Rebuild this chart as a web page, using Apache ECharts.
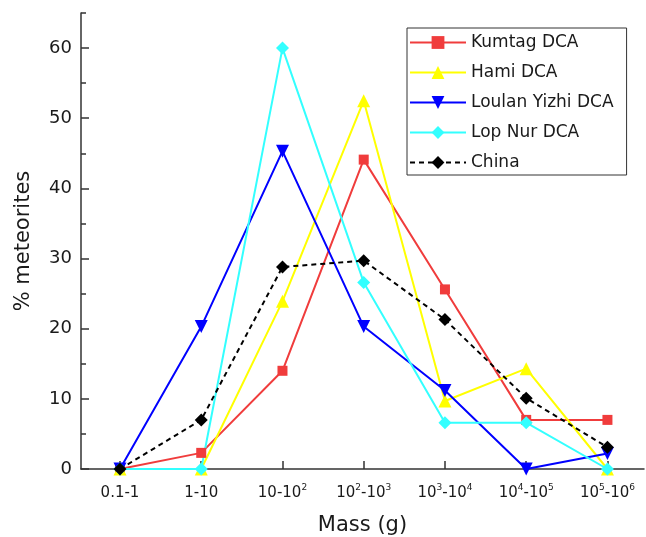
<!DOCTYPE html>
<html>
<head>
<meta charset="utf-8">
<script src="https://cdn.jsdelivr.net/npm/echarts@6/dist/echarts.min.js"></script>
<style>
  html,body{margin:0;padding:0;background:#fff;}
  #chart{width:646px;height:537px;}
</style>
</head>
<body>
<div id="chart"></div>
<script>
  // mass bins, ^n marks a superscript
  var categories=['0.1-1','1-10','10-10^2','10^2-10^3','10^3-10^4','10^4-10^5','10^5-10^6'];
  var kumtag=[0,2.3,14,44.1,25.6,7,7];
  var hami=[0,0,23.9,52.5,9.7,14.3,0];
  var loulan=[0,20.3,45.3,20.3,11.2,0,2.2];
  var lopNur=[0,0,60,26.6,6.6,6.6,0];
  var china=[0,7,28.8,29.7,21.3,10.1,3.1];
  var yMajor=[0,10,20,30,40,50,60];
  var yMinor=[5,15,25,35,45,55,65];

  var font='DejaVu Sans, Arial, sans-serif';
  var txt='#1a1a1a';

  function pts(arr){
    return arr.map(function(v,i){return [i,v];});
  }
  function fmtCat(v){
    var s=categories[Math.round(v)];
    if(s===undefined) return '';
    return s.split(/(\^\d)/).map(function(p){
      if(p.charAt(0)==='^') return '{s|'+p.slice(1)+'}';
      return p ? '{b|'+p+'}' : '';
    }).join('');
  }
  function mk(name,data,color,symbol,size,extra){
    var s={
      name:name,
      type:'line',
      data:pts(data),
      symbol:symbol,
      symbolSize:size,
      showAllSymbol:true,
      itemStyle:{color:color},
      lineStyle:{color:color,width:2},
      z:3
    };
    for(var k in extra) s[k]=extra[k];
    return s;
  }

  var myChart=echarts.init(document.getElementById('chart'));
  var option={
    animation:false,
    textStyle:{fontFamily:font},
    grid:{left:81,right:2,top:13,bottom:68,outerBoundsMode:'none',containLabel:false},
    legend:{
      orient:'vertical',
      left:407,
      top:28,
      padding:[6,13,4,2],
      itemWidth:56,
      itemHeight:16,
      itemGap:13,
      borderColor:'#333',
      borderWidth:1,
      textStyle:{fontFamily:font,fontSize:17,color:txt},
      data:['Kumtag DCA','Hami DCA','Loulan Yizhi DCA','Lop Nur DCA','China']
    },
    xAxis:{
      type:'value',
      min:-0.48,
      max:6.45,
      name:'Mass (g)',
      nameLocation:'middle',
      nameGap:46,
      nameTextStyle:{fontFamily:font,fontSize:21,color:txt},
      splitLine:{show:false},
      axisLine:{show:true,onZero:false,lineStyle:{color:'#333',width:1.5}},
      axisTick:{show:true,inside:true,length:8,customValues:[0,1,2,3,4,5,6],lineStyle:{color:'#333',width:1.5}},
      axisLabel:{
        customValues:[0,1,2,3,4,5,6],
        margin:14,
        formatter:fmtCat,
        rich:{
          b:{fontFamily:font,fontSize:15,color:txt,lineHeight:18,verticalAlign:'bottom'},
          s:{fontFamily:font,fontSize:9,color:txt,lineHeight:18,verticalAlign:'top',padding:[0,0,6,0]}
        }
      }
    },
    yAxis:[
      {
        type:'value',
        min:0,
        max:65,
        name:'% meteorites',
        nameLocation:'middle',
        nameGap:47,
        nameTextStyle:{fontFamily:font,fontSize:21,color:txt},
        splitLine:{show:false},
        axisLine:{show:true,onZero:false,lineStyle:{color:'#333',width:1.5}},
        axisTick:{show:true,inside:true,length:8,customValues:yMajor,lineStyle:{color:'#333',width:1.5}},
        axisLabel:{customValues:yMajor,margin:9,fontFamily:font,fontSize:18,color:txt}
      },
      {
        type:'value',
        min:0,
        max:65,
        position:'left',
        splitLine:{show:false},
        axisLine:{show:false,onZero:false},
        axisTick:{show:true,inside:true,length:5,customValues:yMinor,lineStyle:{color:'#333',width:1.5}},
        axisLabel:{show:false}
      }
    ],
    series:[
      mk('Kumtag DCA',kumtag,'#f03c3c','rect',10),
      mk('Hami DCA',hami,'#ffff00','triangle',13),
      mk('Loulan Yizhi DCA',loulan,'#0000ff','triangle',13,{symbolRotate:180}),
      mk('Lop Nur DCA',lopNur,'#33ffff','diamond',13),
      mk('China',china,'#000000','diamond',13,{lineStyle:{color:'#000',width:2,type:[5,4]}})
    ]
  };
  myChart.setOption(option);
</script>
</body>
</html>
